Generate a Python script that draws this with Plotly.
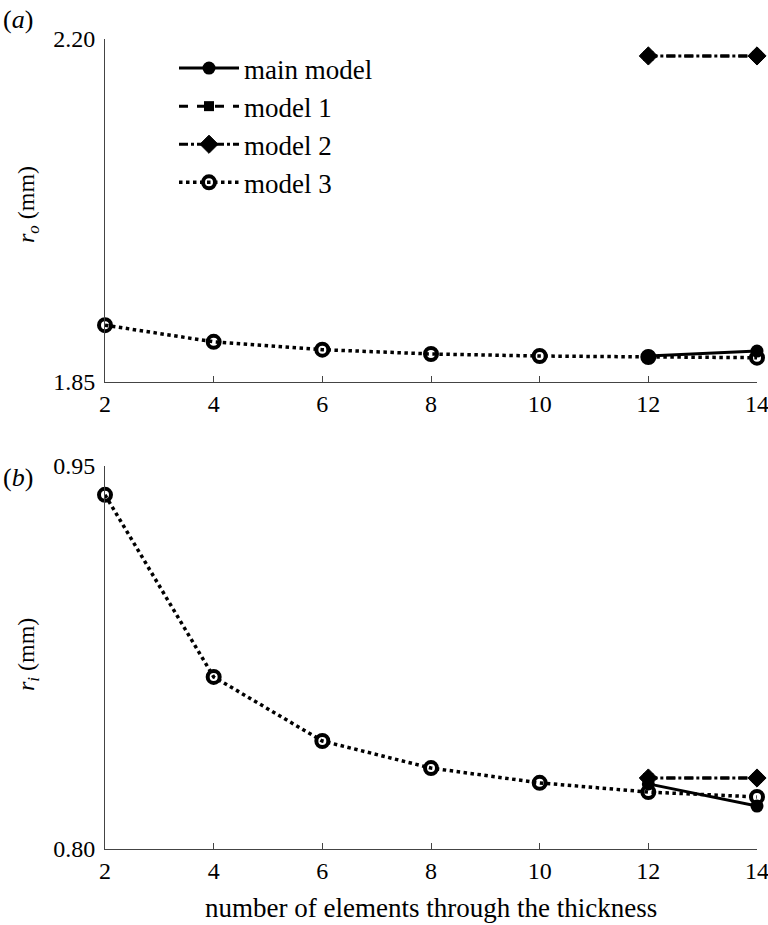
import plotly.graph_objects as go

# ---- data ----
x_all = [2, 4, 6, 8, 10, 12, 14]
x_fine = [12, 14]

ro_main = [1.8765, 1.8816]
ro_model1 = [2.1827, 2.1827]
ro_model2 = [2.1827, 2.1827]
ro_model3 = [1.908, 1.891, 1.883, 1.8786, 1.8765, 1.8755, 1.8748]

ri_main = [0.8255, 0.8168]
ri_model1 = [0.8278, 0.8278]
ri_model2 = [0.8278, 0.8278]
ri_model3 = [0.9387, 0.8674, 0.8423, 0.8317, 0.8259, 0.8223, 0.8204]

series_names = ["main model", "model 1", "model 2", "model 3"]
x_ticks = [2, 4, 6, 8, 10, 12, 14]
ro_ticks = [1.85, 2.20]
ri_ticks = [0.80, 0.95]

FONT = "Liberation Serif"
BLACK = "#000000"

styles = {
    "main model": dict(line=dict(color=BLACK, width=3, dash="solid"),
                       marker=dict(symbol="circle", size=13, color=BLACK)),
    "model 1": dict(line=dict(color=BLACK, width=3, dash="dash"),
                    marker=dict(symbol="square", size=10, color=BLACK)),
    "model 2": dict(line=dict(color=BLACK, width=3, dash="dashdot"),
                    marker=dict(symbol="diamond", size=14, color=BLACK,
                                line=dict(color=BLACK, width=1))),
    "model 3": dict(line=dict(color=BLACK, width=3.5, dash="dot"),
                    marker=dict(symbol="circle-open", size=12, color=BLACK,
                                line=dict(color=BLACK, width=4))),
}

fig = go.Figure()

top = [(x_fine, ro_main), (x_fine, ro_model1), (x_fine, ro_model2), (x_all, ro_model3)]
bot = [(x_fine, ri_main), (x_fine, ri_model1), (x_fine, ri_model2), (x_all, ri_model3)]

for name, (xs, ys) in zip(series_names, top):
    fig.add_trace(go.Scatter(x=xs, y=ys, mode="lines+markers", name=name,
                             legendgroup=name, cliponaxis=False,
                             xaxis="x", yaxis="y", **styles[name]))
for name, (xs, ys) in zip(series_names, bot):
    fig.add_trace(go.Scatter(x=xs, y=ys, mode="lines+markers", name=name,
                             legendgroup=name, showlegend=False, cliponaxis=False,
                             xaxis="x2", yaxis="y2", **styles[name]))

W, H = 768, 925
PL, PR, PT, PB = 105, 757, 39, 849   # plot box in page px
L, R, T, B = PL, W - PR, PT, H - PB
pw = PR - PL
ph = PB - PT


def py(screen_y):
    return (PB - screen_y) / ph


def px(screen_x):
    return (screen_x - PL) / pw


top_dom = [py(382), 1.0]
bot_dom = [0.0, py(466)]

axis_common = dict(showline=True, linecolor="#444444", linewidth=1,
                   ticks="inside", ticklen=6, tickcolor="#444444",
                   showgrid=False, zeroline=False, ticklabeloverflow="allow",
                   automargin=False,
                   tickfont=dict(family=FONT, size=24, color=BLACK))

fig.update_layout(
    width=W, height=H, autosize=False,
    margin=dict(l=L, r=R, t=T, b=B, autoexpand=False),
    plot_bgcolor="white", paper_bgcolor="white",
    font=dict(family=FONT, size=24, color=BLACK),
    xaxis=dict(domain=[0, 1], range=[2, 14], tickvals=x_ticks, anchor="y", **axis_common),
    yaxis=dict(domain=top_dom, range=[1.85, 2.20], tickvals=ro_ticks,
               tickformat=".2f", anchor="x", ticklabelstandoff=4, **axis_common),
    xaxis2=dict(domain=[0, 1], range=[2, 14], tickvals=x_ticks, anchor="y2", **axis_common),
    yaxis2=dict(domain=bot_dom, range=[0.80, 0.95], tickvals=ri_ticks,
                tickformat=".2f", anchor="x2", ticklabelstandoff=4, **axis_common),
    legend=dict(x=px(174), y=py(44), xanchor="left", yanchor="top",
                bgcolor="rgba(0,0,0,0)", font=dict(family=FONT, size=27, color=BLACK),
                tracegroupgap=0, traceorder="grouped", itemwidth=60),
    showlegend=True,
)

annotations = [
    dict(text="(<i>a</i>)", x=px(1), y=py(20), xref="paper", yref="paper",
         xanchor="left", yanchor="middle", showarrow=False, font=dict(family=FONT, size=26)),
    dict(text="(<i>b</i>)", x=px(1), y=py(477), xref="paper", yref="paper",
         xanchor="left", yanchor="middle", showarrow=False, font=dict(family=FONT, size=26)),
    dict(text="<i>r</i><sub><i>o</i></sub> (mm)", x=px(28), y=py(205),
         xref="paper", yref="paper", xanchor="center", yanchor="middle", textangle=-90,
         showarrow=False, font=dict(family=FONT, size=24)),
    dict(text="<i>r</i><sub><i>i</i></sub> (mm)", x=px(28), y=py(655),
         xref="paper", yref="paper", xanchor="center", yanchor="middle", textangle=-90,
         showarrow=False, font=dict(family=FONT, size=24)),
    dict(text="number of elements through the thickness", x=px(431), y=py(908),
         xref="paper", yref="paper", xanchor="center", yanchor="middle",
         showarrow=False, font=dict(family=FONT, size=27)),
]
fig.update_layout(annotations=annotations)

# let the fixed-size figure fill the window exactly (no default page margin)
fig.write_html("out.html", config={"displayModeBar": False},
               post_script="document.body.style.margin='0';document.body.style.overflow='hidden';")
